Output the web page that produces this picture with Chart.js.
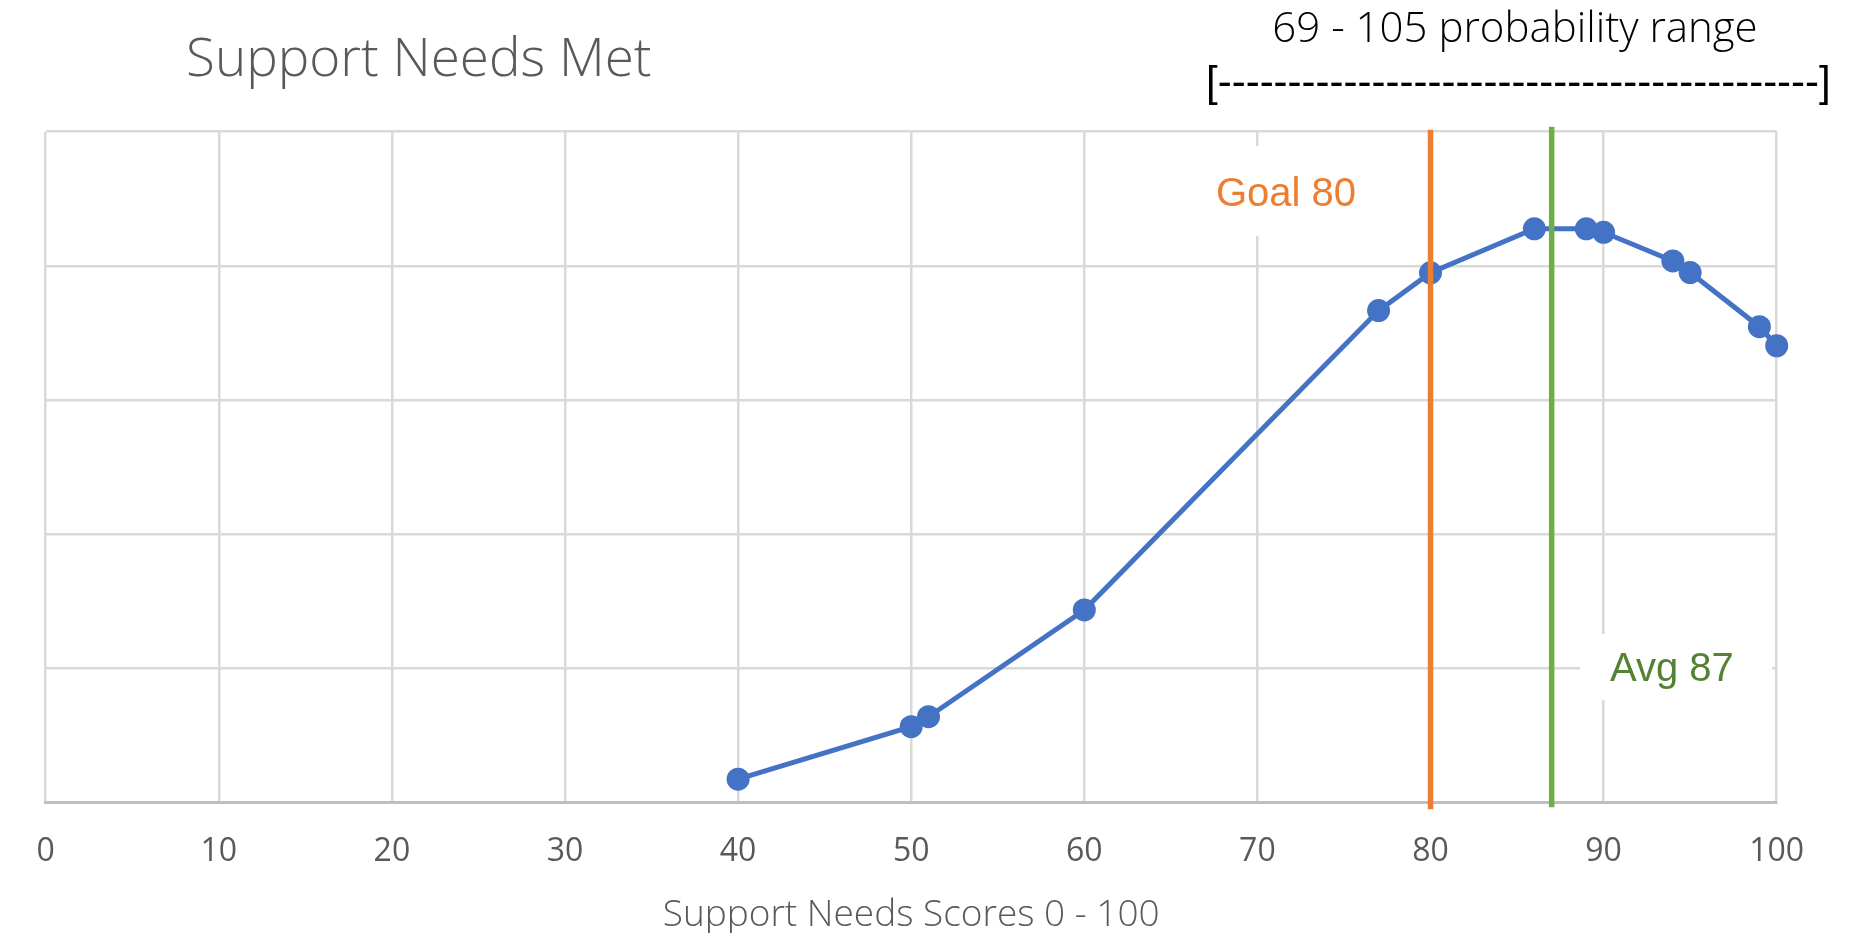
<!DOCTYPE html>
<html>
<head>
<meta charset="utf-8">
<title>Support Needs Met</title>
<script src="https://cdn.jsdelivr.net/npm/chart.js@4.4.1/dist/chart.umd.min.js"></script>
<style>
  html, body { margin: 0; padding: 0; background: #ffffff; }
  #wrap { position: relative; width: 1852px; height: 933px; }
</style>
</head>
<body>
<div id="wrap"><canvas id="chart" width="1852" height="933"></canvas></div>
<script>
// Scores on the x axis and the probability of each score
const scores = [40, 50, 51, 60, 77, 80, 86, 89, 90, 94, 95, 99, 100];
const probability = [0.00086, 0.00282, 0.00319, 0.00717, 0.01833, 0.01974, 0.02138, 0.02138, 0.02125, 0.02018, 0.01975, 0.01773, 0.01702];

// Axis ticks
const xTickValues = [0, 10, 20, 30, 40, 50, 60, 70, 80, 90, 100];
const yGridValues = [0, 0.005, 0.01, 0.015, 0.02, 0.025];

// Reference lines
const goalScore = 80;
const avgScore = 87;
const rangeLow = 69;
const rangeHigh = 105;

// Text
const chartTitle = 'Support Needs Met';
const xAxisTitle = 'Support Needs Scores 0 - 100';
const goalLabel = 'Goal ' + goalScore;
const avgLabel = 'Avg ' + avgScore;
const rangeLabel = rangeLow + ' - ' + rangeHigh + ' probability range';
const rangeBracket = '[-------------------------------------------]';

const BLUE = '#4472C4';
const ORANGE = '#ED7D31';
const GREEN = '#70AD47';
const DARK_GREEN = '#548235';
const GRID = '#D9D9D9';
const AXIS = '#BFBFBF';
const TEXT_GREY = '#595959';

// Annotation layer: label boxes, goal/average lines, titles and the range bracket
const annotations = {
  id: 'annotations',
  beforeDatasetsDraw(chart) {
    const ctx = chart.ctx;
    ctx.save();
    ctx.fillStyle = '#ffffff';
    ctx.fillRect(1200, 146, 228, 90);   // box behind the goal label
    ctx.fillRect(1580, 634, 192, 66);   // box behind the average label
    ctx.restore();
  },
  afterDatasetsDraw(chart) {
    const ctx = chart.ctx;
    const x = chart.scales.x;
    const area = chart.chartArea;
    ctx.save();
    ctx.lineWidth = 5.5;
    ctx.lineCap = 'butt';

    ctx.strokeStyle = ORANGE;
    const gx = x.getPixelForValue(goalScore);
    ctx.beginPath();
    ctx.moveTo(gx, area.top - 2);
    ctx.lineTo(gx, area.bottom + 7);
    ctx.stroke();

    ctx.strokeStyle = GREEN;
    const ax = x.getPixelForValue(avgScore);
    ctx.beginPath();
    ctx.moveTo(ax, area.top - 5);
    ctx.lineTo(ax, area.bottom + 5);
    ctx.stroke();

    ctx.textBaseline = 'alphabetic';
    ctx.textAlign = 'left';
    ctx.font = '40px "Liberation Sans", Arial, sans-serif';
    ctx.fillStyle = ORANGE;
    ctx.fillText(goalLabel, 1216, 206);
    ctx.fillStyle = DARK_GREEN;
    ctx.fillText(avgLabel, 1610, 681);
    ctx.restore();
  },
  afterDraw(chart) {
    const ctx = chart.ctx;
    ctx.save();
    ctx.textBaseline = 'alphabetic';

    ctx.fillStyle = TEXT_GREY;
    ctx.textAlign = 'left';
    ctx.font = '300 53px "Open Sans", sans-serif';
    ctx.fillText(chartTitle, 186, 76);

    ctx.fillStyle = '#000000';
    ctx.textAlign = 'center';
    ctx.font = '300 42px "Open Sans", sans-serif';
    ctx.fillText(rangeLabel, 1515, 42);

    ctx.textAlign = 'left';
    ctx.font = '42px "Liberation Sans", Arial, sans-serif';
    ctx.fillText(rangeBracket, 1206, 96);
    ctx.restore();
  }
};

new Chart(document.getElementById('chart'), {
  type: 'line',
  data: {
    datasets: [{
      label: chartTitle,
      data: scores.map((s, i) => ({ x: s, y: probability[i] })),
      borderColor: BLUE,
      backgroundColor: BLUE,
      borderWidth: 5,
      pointRadius: 11.5,
      pointHoverRadius: 11.5,
      pointBackgroundColor: BLUE,
      pointBorderWidth: 0,
      tension: 0,
      fill: false,
      clip: false
    }]
  },
  options: {
    responsive: false,
    animation: false,
    devicePixelRatio: 1,
    layout: { padding: { left: 45.7, right: 75.3, top: 131.7, bottom: 3.7 } },
    plugins: {
      legend: { display: false },
      tooltip: { enabled: false },
      title: { display: false }
    },
    scales: {
      x: {
        type: 'linear',
        min: 0,
        max: 100,
        afterBuildTicks: (scale) => { scale.ticks = xTickValues.map(v => ({ value: v })); },
        ticks: {
          color: TEXT_GREY,
          font: { family: '"Open Sans", sans-serif', size: 32 },
          padding: 30,
          maxRotation: 0,
          autoSkip: false
        },
        grid: { color: GRID, lineWidth: 2.5, drawTicks: false },
        border: { color: AXIS, width: 3 },
        title: {
          display: true,
          text: xAxisTitle,
          color: TEXT_GREY,
          font: { family: '"Open Sans", sans-serif', size: 37, weight: 300, lineHeight: 0.773 },
          padding: { top: 0, bottom: 0 }
        }
      },
      y: {
        type: 'linear',
        min: 0,
        max: 0.025,
        afterBuildTicks: (scale) => { scale.ticks = yGridValues.map(v => ({ value: v })); },
        ticks: { display: false },
        grid: { color: GRID, lineWidth: 2.5, drawTicks: false },
        border: { display: false }
      }
    }
  },
  plugins: [annotations]
});
</script>
</body>
</html>
